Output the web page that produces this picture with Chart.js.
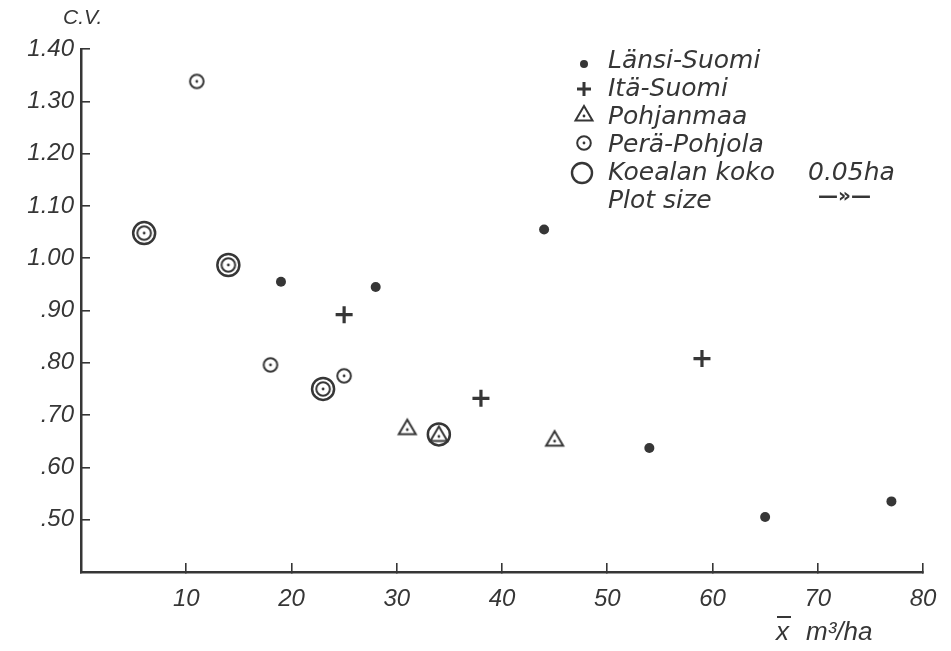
<!DOCTYPE html>
<html>
<head>
<meta charset="utf-8">
<script src="https://cdn.jsdelivr.net/npm/chart.js@4.4.1/dist/chart.umd.min.js"></script>
<style>
  html, body { margin: 0; padding: 0; background: #fff; }
  #wrap { width: 951px; height: 651px; position: relative; }
</style>
</head>
<body>
<div id="wrap"><canvas id="cv" width="951" height="651"></canvas></div>
<script>
// values: x = mean volume m3/ha, y = C.V.
const lansiSuomi = [
  { x: 19, y: 0.955 }, { x: 28, y: 0.945 }, { x: 44, y: 1.055 },
  { x: 54, y: 0.637 }, { x: 65, y: 0.505 }, { x: 77, y: 0.535 }
];
const itaSuomi = [
  { x: 25, y: 0.892 }, { x: 38, y: 0.732 }, { x: 59, y: 0.808 }
];
const pohjanmaa = [
  { x: 31, y: 0.676 }, { x: 34, y: 0.663 }, { x: 45, y: 0.654 }
];
const peraPohjola = [
  { x: 11, y: 1.338 }, { x: 18, y: 0.796 }, { x: 25, y: 0.775 },
  { x: 6, y: 1.048 }, { x: 14, y: 0.987 }, { x: 23, y: 0.750 }
];
// points measured on the 0.05 ha plot size (drawn with a ring)
const plotSize005 = [
  { x: 6, y: 1.048 }, { x: 14, y: 0.987 }, { x: 23, y: 0.750 }, { x: 34, y: 0.663 }
];

const xTickLabels = { 10: '10', 20: '20', 30: '30', 40: '40', 50: '50', 60: '60', 70: '70', 80: '80' };
const yTickLabels = { 140: '1.40', 130: '1.30', 120: '1.20', 110: '1.10', 100: '1.00',
  90: '.90', 80: '.80', 70: '.70', 60: '.60', 50: '.50' };

const ink = '#363636';
const font = '"Liberation Sans", "DejaVu Sans", sans-serif';
const legendFont = '"DejaVu Sans", sans-serif';

function makeMarker(kind) {
  const c = document.createElement('canvas');
  c.width = 22; c.height = 22;
  const g = c.getContext('2d');
  g.strokeStyle = ink; g.fillStyle = ink; g.lineWidth = 2;
  if (kind === 'circleDot') {
    g.beginPath(); g.arc(11, 11, 6.8, 0, Math.PI * 2); g.stroke();
  } else {
    g.beginPath(); g.moveTo(11, 3); g.lineTo(19.5, 17.5); g.lineTo(2.5, 17.5); g.closePath(); g.stroke();
  }
  g.beginPath(); g.arc(11, kind === 'circleDot' ? 11 : 13, 1.4, 0, Math.PI * 2); g.fill();
  return c;
}
const circleDot = makeMarker('circleDot');
const triDot = makeMarker('triangle');

const extras = {
  id: 'extras',
  afterDraw(chart) {
    const ctx = chart.ctx;
    ctx.save();
    ctx.fillStyle = ink; ctx.strokeStyle = ink;
    ctx.textBaseline = 'middle';
    ctx.textAlign = 'left';
    // axis captions
    ctx.font = 'italic 21px ' + font;
    ctx.fillText('C.V.', 63, 18);
    ctx.font = 'italic 26px ' + font;
    ctx.fillText('x', 776, 633);
    ctx.lineWidth = 2;
    ctx.beginPath(); ctx.moveTo(777, 617); ctx.lineTo(791, 617); ctx.stroke();
    ctx.fillText('m³/ha', 806, 633);

    // legend
    const lx = 584;
    const rows = [61, 89, 117, 145, 173, 201];
    ctx.font = 'oblique 25px ' + legendFont;
    ctx.beginPath(); ctx.arc(lx, rows[0] + 3, 4, 0, Math.PI * 2); ctx.fill();
    ctx.fillText('Länsi-Suomi', 608, rows[0]);
    ctx.lineWidth = 3;
    ctx.beginPath(); ctx.moveTo(lx - 7, rows[1]); ctx.lineTo(lx + 7, rows[1]);
    ctx.moveTo(lx, rows[1] - 7); ctx.lineTo(lx, rows[1] + 7); ctx.stroke();
    ctx.fillText('Itä-Suomi', 608, rows[1]);
    ctx.drawImage(triDot, lx - 11, rows[2] - 14, 22, 22);
    ctx.fillText('Pohjanmaa', 608, rows[2]);
    ctx.drawImage(circleDot, lx - 11, rows[3] - 13, 22, 22);
    ctx.fillText('Perä-Pohjola', 608, rows[3]);
    ctx.lineWidth = 2.4;
    ctx.beginPath(); ctx.arc(lx - 2, rows[4], 10, 0, Math.PI * 2); ctx.stroke();
    ctx.fillText('Koealan koko', 608, rows[4]);
    ctx.fillText('0.05ha', 808, rows[4]);
    ctx.fillText('Plot size', 608, rows[5]);
    ctx.font = 'bold 20px ' + legendFont;
    ctx.fillText('—»—', 818, rows[5] - 4);
    ctx.restore();
  }
};

const pointBase = { showLine: false, borderColor: ink, backgroundColor: ink };

new Chart(document.getElementById('cv'), {
  type: 'scatter',
  data: {
    datasets: [
      { ...pointBase, label: 'Länsi-Suomi', data: lansiSuomi, pointStyle: 'circle', pointRadius: 5, borderWidth: 0 },
      { ...pointBase, label: 'Itä-Suomi', data: itaSuomi, pointStyle: 'cross', pointRadius: 8.5, borderWidth: 3.2 },
      { ...pointBase, label: 'Pohjanmaa', data: pohjanmaa, pointStyle: triDot },
      { ...pointBase, label: 'Perä-Pohjola', data: peraPohjola, pointStyle: circleDot },
      { ...pointBase, label: 'Koealan koko 0.05ha', data: plotSize005, pointStyle: 'circle',
        pointRadius: 11, borderWidth: 2.5, backgroundColor: 'rgba(0,0,0,0)' }
    ]
  },
  options: {
    responsive: false,
    animation: false,
    events: [],
    layout: { padding: { left: 0, top: 49, right: 28, bottom: 0 } },
    plugins: { legend: { display: false }, tooltip: { enabled: false } },
    scales: {
      x: {
        type: 'linear', min: 0, max: 80,
        afterFit: (s) => { s.height = 79; s.paddingRight = 0; s.paddingLeft = 0; },
        border: { display: true, color: ink, width: 2.5 },
        grid: { drawOnChartArea: false, tickLength: -9, tickColor: ink, lineWidth: 1.6 },
        ticks: {
          stepSize: 10, padding: 22, color: ink,
          font: { family: font, size: 24, style: 'italic' },
          callback: (v) => xTickLabels[v] || ''
        }
      },
      y: {
        type: 'linear', min: 0.4, max: 1.4,
        afterFit: (s) => { s.width = 81; },
        border: { display: true, color: ink, width: 2.5 },
        grid: { drawOnChartArea: false, tickLength: -9, tickColor: ink, lineWidth: 1.6 },
        ticks: {
          stepSize: 0.1, padding: 16, color: ink,
          font: { family: font, size: 24, style: 'italic' },
          callback: (v) => yTickLabels[Math.round(v * 100)] || ''
        }
      }
    }
  },
  plugins: [extras]
});
</script>
</body>
</html>
